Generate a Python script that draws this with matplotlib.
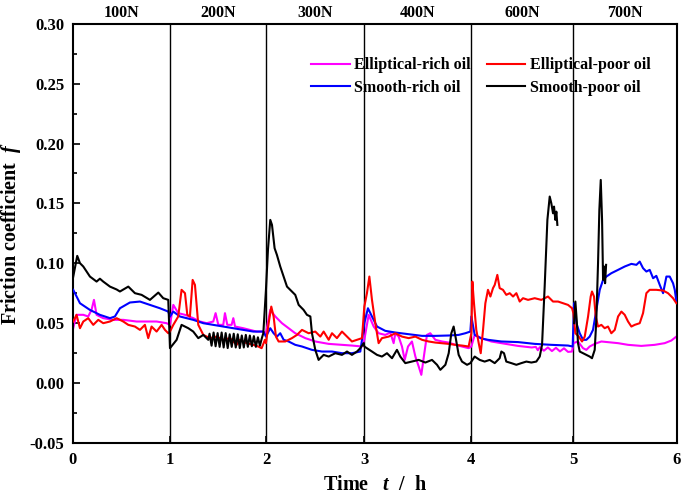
import numpy as np
import matplotlib
matplotlib.use('Agg')
import matplotlib.pyplot as plt
from matplotlib.ticker import MultipleLocator

plt.rcParams['font.family'] = ['Liberation Serif', 'DejaVu Serif']
plt.rcParams['font.weight'] = 'bold'
plt.rcParams['mathtext.fontset'] = 'custom'
plt.rcParams['mathtext.it'] = 'Liberation Serif:italic:bold'

# load stages: boundaries on the time axis and labels
stage_edges = [0, 0.967, 1.920, 2.897, 3.957, 4.973, 6.0]
stage_ticks = ['0', '1', '2', '3', '4', '5', '6']
loads = ['100N', '200N', '300N', '400N', '600N', '700N']

# Elliptical-rich oil (magenta)
t_ell_rich = [0.006, 0.039, 0.106, 0.155, 0.188, 0.212, 0.238, 0.304, 0.404, 0.503, 0.635, 0.735, 0.834, 0.933,
              0.967, 1.000, 1.049, 1.116, 1.198, 1.265, 1.331, 1.397, 1.420, 1.447, 1.496, 1.513, 1.536, 1.579,
              1.596, 1.613, 1.695, 1.761, 1.827, 1.894,
              1.920, 1.963, 2.013, 2.079, 2.145, 2.211, 2.311, 2.410, 2.543, 2.675, 2.774, 2.874,
              2.897, 2.940, 2.990, 3.039, 3.105, 3.155, 3.188, 3.205, 3.238, 3.271, 3.298, 3.331, 3.370, 3.404,
              3.437, 3.463, 3.493, 3.519, 3.552, 3.602, 3.668, 3.735, 3.801, 3.867, 3.933,
              3.960, 3.993, 4.059, 4.158, 4.258, 4.423, 4.560, 4.600, 4.620, 4.640, 4.680, 4.720, 4.760, 4.800,
              4.840, 4.880, 4.920, 4.960,
              4.973, 5.019, 5.069, 5.102, 5.135, 5.185, 5.251, 5.417, 5.516, 5.648, 5.781, 5.880, 5.946, 5.996]
f_ell_rich = [0.0456, 0.0568, 0.0568, 0.0554, 0.0609, 0.0693, 0.0568, 0.0540, 0.0526, 0.0526, 0.0512, 0.0512, 0.0512, 0.0498,
              0.0484, 0.0651, 0.0582, 0.0568, 0.0540, 0.0512, 0.0498, 0.0512, 0.0582, 0.0484, 0.0484, 0.0582, 0.0484, 0.0484,
              0.0540, 0.0470, 0.0456, 0.0442, 0.0428, 0.0428,
              0.0414, 0.0609, 0.0554, 0.0498, 0.0456, 0.0414, 0.0373, 0.0345, 0.0325, 0.0317, 0.0311, 0.0303,
              0.0359, 0.0568, 0.0470, 0.0414, 0.0400, 0.0420, 0.0331, 0.0414, 0.0386, 0.0303, 0.0191, 0.0303, 0.0345, 0.0219,
              0.0136, 0.0066, 0.0247, 0.0400, 0.0414, 0.0359, 0.0345, 0.0336, 0.0317, 0.0303, 0.0289,
              0.0303, 0.0400, 0.0373, 0.0345, 0.0331, 0.0308, 0.0295, 0.0300, 0.0272, 0.0298, 0.0268, 0.0295, 0.0265, 0.0292,
              0.0262, 0.0288, 0.0258, 0.0261,
              0.0331, 0.0345, 0.0289, 0.0275, 0.0303, 0.0325, 0.0345, 0.0331, 0.0317, 0.0308, 0.0317, 0.0331, 0.0353, 0.0386]

# Elliptical-poor oil (red)
t_ell_poor = [0.006, 0.039, 0.073, 0.106, 0.155, 0.205, 0.255, 0.304, 0.371, 0.437, 0.503, 0.553, 0.619, 0.669,
              0.718, 0.751, 0.784, 0.834, 0.884, 0.917, 0.950,
              0.967, 1.000, 1.049, 1.082, 1.116, 1.139, 1.165, 1.192, 1.215, 1.248, 1.298, 1.364, 1.430, 1.496,
              1.563, 1.629, 1.662, 1.728, 1.794, 1.844, 1.877, 1.910,
              1.920, 1.947, 1.973, 1.996, 2.019, 2.046, 2.112, 2.178, 2.228, 2.278, 2.344, 2.410, 2.460, 2.493,
              2.543, 2.576, 2.625, 2.675, 2.725, 2.774, 2.824, 2.874,
              2.897, 2.923, 2.947, 2.973, 3.006, 3.039, 3.072, 3.139, 3.205, 3.271, 3.337, 3.404, 3.470, 3.536,
              3.602, 3.668, 3.735, 3.801, 3.867, 3.933,
              3.960, 3.970, 3.986, 4.009, 4.033, 4.053, 4.076, 4.099, 4.125, 4.149, 4.175, 4.192, 4.218, 4.241,
              4.274, 4.307, 4.341, 4.374, 4.407, 4.440, 4.473, 4.523, 4.589, 4.655, 4.721, 4.771, 4.821, 4.870,
              4.920, 4.960,
              4.973, 4.993, 5.026, 5.059, 5.086, 5.119, 5.145, 5.158, 5.178, 5.195, 5.218, 5.251, 5.284, 5.317,
              5.350, 5.384, 5.417, 5.450, 5.483, 5.516, 5.549, 5.582, 5.632, 5.665, 5.698, 5.731, 5.797, 5.864,
              5.913, 5.963, 5.996]
f_ell_poor = [0.0512, 0.0568, 0.0456, 0.0512, 0.0540, 0.0484, 0.0526, 0.0498, 0.0512, 0.0540, 0.0512, 0.0484, 0.0470, 0.0442,
              0.0484, 0.0373, 0.0470, 0.0428, 0.0484, 0.0442, 0.0414,
              0.0428, 0.0484, 0.0554, 0.0777, 0.0749, 0.0568, 0.0554, 0.0860, 0.0818, 0.0484, 0.0400, 0.0373, 0.0386, 0.0359,
              0.0373, 0.0317, 0.0359, 0.0331, 0.0317, 0.0303, 0.0289, 0.0359,
              0.0331, 0.0498, 0.0637, 0.0554, 0.0386, 0.0345, 0.0345, 0.0373, 0.0400, 0.0442, 0.0414, 0.0428, 0.0386, 0.0428,
              0.0359, 0.0414, 0.0373, 0.0428, 0.0386, 0.0345, 0.0359, 0.0373,
              0.0637, 0.0749, 0.0888, 0.0693, 0.0498, 0.0331, 0.0373, 0.0386, 0.0414, 0.0386, 0.0373, 0.0386, 0.0359, 0.0345,
              0.0336, 0.0331, 0.0325, 0.0317, 0.0311, 0.0303,
              0.0414, 0.0846, 0.0665, 0.0442, 0.0331, 0.0247, 0.0442, 0.0665, 0.0777, 0.0721, 0.0791, 0.0818, 0.0902, 0.0791,
              0.0777, 0.0735, 0.0749, 0.0721, 0.0749, 0.0679, 0.0707, 0.0693, 0.0707, 0.0693, 0.0721, 0.0679, 0.0679, 0.0665,
              0.0651, 0.0623,
              0.0582, 0.0414, 0.0386, 0.0345, 0.0386, 0.0554, 0.0721, 0.0763, 0.0721, 0.0554, 0.0470, 0.0484, 0.0456, 0.0470,
              0.0414, 0.0442, 0.0554, 0.0595, 0.0568, 0.0512, 0.0470, 0.0484, 0.0498, 0.0582, 0.0749, 0.0777, 0.0777, 0.0771,
              0.0749, 0.0707, 0.0665]

# Smooth-rich oil (blue)
t_smo_rich = [0.006, 0.023, 0.073, 0.172, 0.271, 0.371, 0.420, 0.470, 0.569, 0.669, 0.768, 0.867, 0.950,
              0.967, 1.000, 1.066, 1.132, 1.198, 1.298, 1.397, 1.496, 1.596, 1.695, 1.794, 1.894,
              1.920, 1.963, 1.996, 2.029, 2.062, 2.096, 2.145, 2.211, 2.278, 2.377, 2.476, 2.576, 2.675, 2.774, 2.857,
              2.897, 2.933, 2.973, 3.023, 3.105, 3.205, 3.337, 3.470, 3.602, 3.735, 3.834, 3.900, 3.950,
              3.960, 3.993, 4.059, 4.125, 4.258, 4.423, 4.589, 4.754, 4.920, 4.966,
              4.980, 5.003, 5.036, 5.069, 5.102, 5.135, 5.168, 5.201, 5.235, 5.268, 5.301, 5.350, 5.417, 5.483,
              5.549, 5.599, 5.632, 5.665, 5.698, 5.731, 5.765, 5.797, 5.831, 5.864, 5.897, 5.930, 5.963, 5.980, 5.996]
f_smo_rich = [0.0777, 0.0749, 0.0665, 0.0609, 0.0568, 0.0540, 0.0554, 0.0623, 0.0671, 0.0679, 0.0651, 0.0623, 0.0595,
              0.0554, 0.0595, 0.0554, 0.0540, 0.0526, 0.0498, 0.0484, 0.0470, 0.0456, 0.0442, 0.0428, 0.0428,
              0.0386, 0.0456, 0.0414, 0.0386, 0.0414, 0.0359, 0.0345, 0.0317, 0.0303, 0.0275, 0.0261, 0.0261, 0.0247, 0.0247, 0.0261,
              0.0498, 0.0623, 0.0554, 0.0470, 0.0434, 0.0420, 0.0406, 0.0392, 0.0392, 0.0395, 0.0400, 0.0414, 0.0428,
              0.0554, 0.0400, 0.0370, 0.0359, 0.0345, 0.0340, 0.0325, 0.0317, 0.0311, 0.0303,
              0.0665, 0.0498, 0.0414, 0.0359, 0.0359, 0.0386, 0.0442, 0.0609, 0.0777, 0.0860, 0.0888, 0.0916, 0.0944, 0.0972,
              0.0994, 0.0986, 0.1013, 0.0958, 0.0930, 0.0944, 0.0874, 0.0894, 0.0818, 0.0749, 0.0888, 0.0888, 0.0832, 0.0777, 0.0679]

# Smooth-poor oil (black); nan marks the gap in the 600N record
t_smo_poor = [0.000, 0.046, 0.073, 0.106, 0.172, 0.238, 0.271, 0.304, 0.371, 0.437, 0.470, 0.553, 0.619, 0.685,
              0.768, 0.851, 0.900, 0.950,
              0.967, 1.033, 1.082, 1.116, 1.149, 1.198, 1.248, 1.298, 1.347, 1.360, 1.380, 1.400, 1.420, 1.440,
              1.460, 1.480, 1.500, 1.520, 1.540, 1.560, 1.580, 1.600, 1.620, 1.640, 1.660, 1.680, 1.700, 1.720,
              1.740, 1.760, 1.780, 1.800, 1.820, 1.840, 1.860, 1.880, 1.894,
              1.920, 1.940, 1.963, 1.980, 2.006, 2.029, 2.062, 2.096, 2.129, 2.178, 2.211, 2.245, 2.294, 2.327,
              2.361, 2.377, 2.410, 2.443, 2.493, 2.543, 2.609, 2.675, 2.725, 2.774, 2.824, 2.857, 2.890,
              2.897, 2.923, 2.973, 3.023, 3.072, 3.122, 3.172, 3.221, 3.254, 3.304, 3.370, 3.437, 3.503, 3.569,
              3.619, 3.652, 3.702, 3.735, 3.761, 3.784, 3.808, 3.834, 3.867, 3.917, 3.950,
              3.960, 3.993, 4.043, 4.092, 4.142, 4.192, 4.241, 4.258, 4.284, 4.307, 4.357, 4.407, 4.456, 4.506,
              4.556, 4.605, 4.639, 4.662, 4.688, 4.715, 4.738, 4.754, 4.771, 4.781, 4.794, 4.804, 4.814,
              4.900,
              4.980, 4.993, 5.006, 5.019, 5.036, 5.069, 5.102, 5.135, 5.158, 5.185, 5.201, 5.218, 5.231, 5.245,
              5.258, 5.268, 5.278, 5.288, 5.298]
f_smo_poor = [0.0860, 0.1061, 0.1000, 0.0972, 0.0888, 0.0846, 0.0870, 0.0846, 0.0804, 0.0780, 0.0763, 0.0804, 0.0749, 0.0735,
              0.0693, 0.0754, 0.0707, 0.0693,
              0.0289, 0.0359, 0.0484, 0.0470, 0.0456, 0.0428, 0.0373, 0.0400, 0.0359, 0.0410, 0.0310, 0.0420, 0.0305, 0.0415,
              0.0300, 0.0420, 0.0295, 0.0415, 0.0290, 0.0405, 0.0300, 0.0410, 0.0295, 0.0405, 0.0290, 0.0395, 0.0295, 0.0400,
              0.0300, 0.0395, 0.0305, 0.0390, 0.0300, 0.0380, 0.0310, 0.0375, 0.0414,
              0.0777, 0.1111, 0.1362, 0.1320, 0.1125, 0.1069, 0.0972, 0.0888, 0.0804, 0.0763, 0.0735, 0.0651, 0.0609, 0.0568,
              0.0554, 0.0414, 0.0275, 0.0191, 0.0233, 0.0219, 0.0247, 0.0233, 0.0261, 0.0233, 0.0261, 0.0289, 0.0331,
              0.0303, 0.0289, 0.0261, 0.0233, 0.0219, 0.0247, 0.0205, 0.0275, 0.0219, 0.0164, 0.0177, 0.0191, 0.0169, 0.0191,
              0.0150, 0.0108, 0.0150, 0.0247, 0.0414, 0.0470, 0.0359, 0.0233, 0.0177, 0.0150, 0.0164,
              0.0177, 0.0219, 0.0191, 0.0177, 0.0191, 0.0164, 0.0205, 0.0261, 0.0247, 0.0177, 0.0164, 0.0150, 0.0164, 0.0177,
              0.0169, 0.0177, 0.0219, 0.0317, 0.0804, 0.1362, 0.1557, 0.1501, 0.1417, 0.1473, 0.1362, 0.1431, 0.1320,
              np.nan,
              0.0498, 0.0679, 0.0526, 0.0331, 0.0261, 0.0247, 0.0233, 0.0219, 0.0205, 0.0275, 0.0526, 0.0999, 0.1445, 0.1696,
              0.1362, 0.0860, 0.0972, 0.0832, 0.0986]

fig, ax = plt.subplots(figsize=(6.85, 4.95), dpi=100)
fig.subplots_adjust(left=0.106, right=0.988, bottom=0.106, top=0.9515)

for xb in stage_edges[1:-1]:
    ax.axvline(xb, color='black', linewidth=1.0, zorder=1)

ax.plot(t_ell_rich, f_ell_rich, color='#FF00FF', linewidth=1.5, label='Elliptical-rich oil', zorder=2)
ax.plot(t_smo_rich, f_smo_rich, color='#0000FF', linewidth=1.5, label='Smooth-rich oil', zorder=3)
ax.plot(t_ell_poor, f_ell_poor, color='#FF0000', linewidth=1.5, label='Elliptical-poor oil', zorder=4)
ax.plot(t_smo_poor, f_smo_poor, color='black', linewidth=1.5, label='Smooth-poor oil', zorder=5)

ax.set_xlim(0, 6)
ax.set_ylim(-0.05, 0.30)
ax.set_xticks(stage_edges)
ax.set_xticklabels(stage_ticks)
ax.yaxis.set_major_locator(MultipleLocator(0.05))
ax.yaxis.set_minor_locator(MultipleLocator(0.025))
ax.yaxis.set_major_formatter(matplotlib.ticker.FormatStrFormatter('%.2f'))
ax.tick_params(axis='both', which='both', direction='in', labelsize=12)
ax.tick_params(axis='both', which='major', length=5, width=1.2)
ax.tick_params(axis='y', which='minor', length=3, width=1.2)
ax.tick_params(axis='x', pad=7)
ax.tick_params(axis='y', pad=6)
for s in ax.spines.values():
    s.set_linewidth(1.5)

# load labels above each stage
for i, lab in enumerate(loads):
    xc = (stage_edges[i] + stage_edges[i + 1]) / 2
    ax.text(xc, 1.027, lab, transform=ax.get_xaxis_transform(), ha='center', va='center',
            fontsize=11.5, fontweight='bold')

ax.set_xlabel('Time   $t$  /  h', fontsize=14.5, fontweight='bold', labelpad=5)
ax.set_ylabel('Friction coefficient  $f$', fontsize=14.5, fontweight='bold', labelpad=5)

ax.legend(ncol=2, frameon=False, loc='upper left', bbox_to_anchor=(0.395, 0.92),
          fontsize=11.5, handlelength=2.4, handletextpad=0.3, columnspacing=1.0,
          labelspacing=0.4, borderaxespad=0, borderpad=0)

fig.savefig('out.png', dpi=100)
